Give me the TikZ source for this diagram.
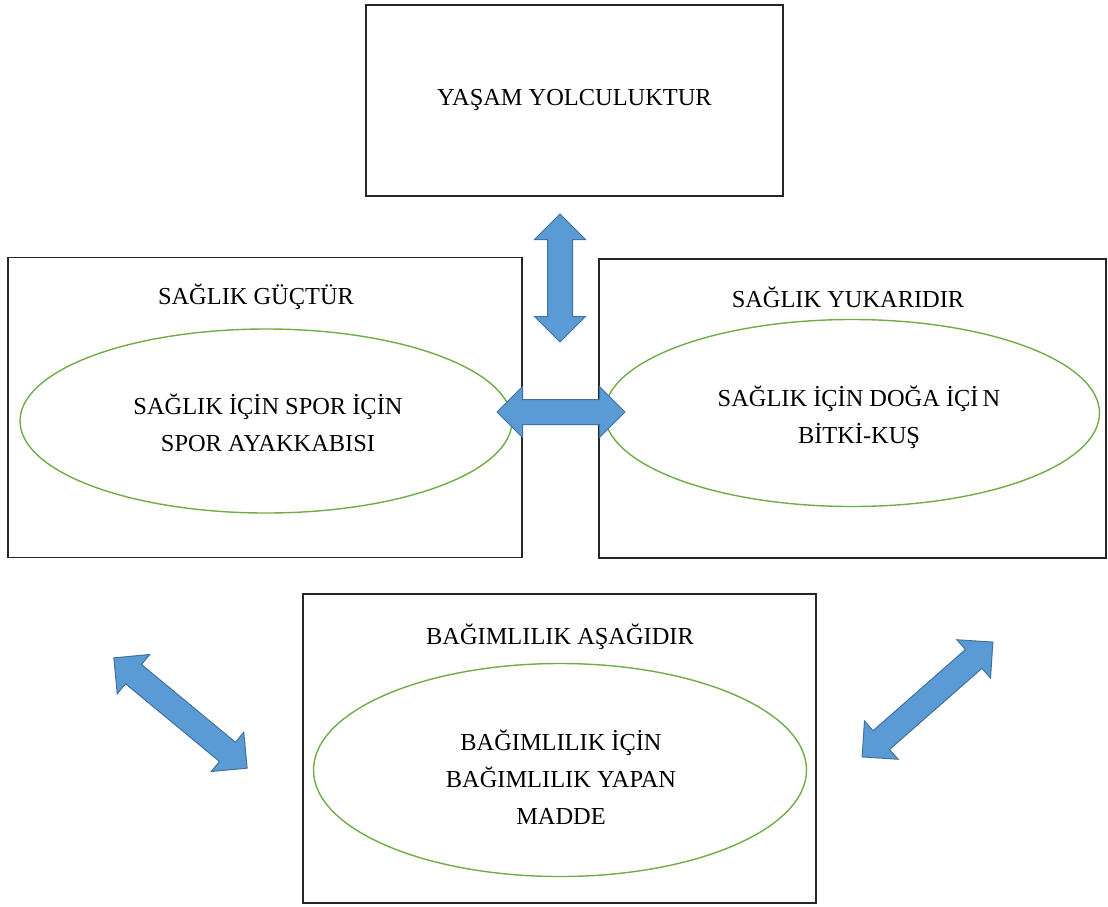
\documentclass[tikz,border=0pt]{standalone}
\usepackage{fontspec}
\setmainfont{Liberation Serif}
\usetikzlibrary{shapes.geometric,shapes.arrows,positioning}

\definecolor{arrowfill}{HTML}{5B9BD5}
\definecolor{arrowedge}{HTML}{41719C}
\definecolor{ovalgreen}{HTML}{70AD47}

\begin{document}
\begin{tikzpicture}[x=0.5pt,y=-0.5pt,font=\fontsize{12.2}{18.5}\selectfont]
\tikzstyle{box}=[draw=black!85,line width=0.9pt,inner sep=0pt]
\tikzstyle{oval}=[ellipse,draw=ovalgreen,line width=0.7pt,inner sep=0pt]
\tikzstyle{blockarrow}=[double arrow,fill=arrowfill,draw=arrowedge,line width=0.5pt,minimum width=25pt,double arrow head extend=6.5pt,inner xsep=0pt,inner ysep=6pt,text height=0pt,text depth=0pt]
\useasboundingbox (0,0) rectangle (1108,906);
% boxes
\node[box,minimum width=208.5pt,minimum height=95.5pt] (top) at (574.5,100.5) {YAŞAM YOLCULUKTUR};
\node[box,minimum width=257pt,minimum height=150pt] (left) at (265,407.5) {};
\node[box,minimum width=253.5pt,minimum height=149.5pt] (right) at (852.5,408.5) {};
\node[box,minimum width=256.5pt,minimum height=154.5pt] (bottom) at (559.5,748.5) {};
% titles
\node (lefttitle) at (256,297) {SAĞLIK GÜÇTÜR};
\node (righttitle) at (848,297) {SAĞLIK YUKARIDIR};
\node (bottomtitle) at (560,637) {BAĞIMLILIK AŞAĞIDIR};
% ovals
\node[oval,minimum width=246pt,minimum height=92pt] (leftoval) at (266,421) {};
\node[oval,minimum width=247.5pt,minimum height=93.5pt] (rightoval) at (852,413) {};
\node[oval,minimum width=246.5pt,minimum height=106.5pt] (bottomoval) at (560,770) {};
\node[align=center] (lefttext) at (268,422.5) {SAĞLIK İÇİN SPOR İÇİN\\SPOR AYAKKABISI};
\node[align=center] (righttext) at (859,417.5) {SAĞLIK İÇİN DOĞA İÇİ\,N\\BİTKİ-KUŞ};
\node[align=center] (bottomtext) at (561,777) {BAĞIMLILIK İÇİN\\BAĞIMLILIK YAPAN\\MADDE};
% block arrows
\node[blockarrow,minimum height=64pt,rotate=90] (updown) at (560,278) {};
\node[blockarrow,minimum height=64pt] (leftright) at (561,412) {};
\node[blockarrow,minimum height=86.5pt,rotate=-39.6] (diagleft) at (180.5,713) {};
\node[blockarrow,minimum height=87pt,rotate=41.3] (diagright) at (927.5,699.5) {};
\end{tikzpicture}
\end{document}
